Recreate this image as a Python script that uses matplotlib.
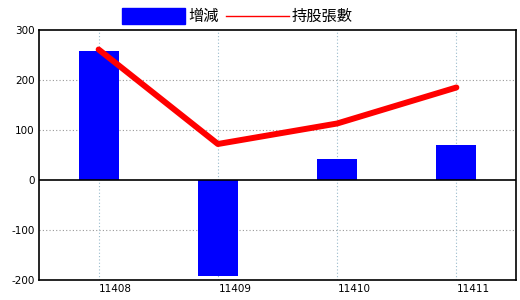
import matplotlib
matplotlib.use("Agg")
import matplotlib.pyplot as plt
from matplotlib.patches import Rectangle
from matplotlib.lines import Line2D
import numpy as np

plt.rcParams['font.family'] = ['Noto Sans CJK TC', 'DejaVu Sans']

months = ["11408", "11409", "11410", "11411"]
change = [259, -192, 42, 70]          # 增減
holdings = [261, 72, 113, 185]        # 持股張數

W, H = 520, 300
fig = plt.figure(figsize=(W/100, H/100), dpi=100)
ax = fig.add_axes([39/W, 1 - 280/H, 477/W, 250/H])

x = np.arange(len(months))
ax.bar(x, change, width=40/119.25, color="#0000ff", zorder=2)
ax.plot(x, holdings, color="#ff0000", linewidth=4.3, solid_capstyle="round", zorder=3)

ax.set_xlim(-0.5, len(months) - 0.5)
ax.set_ylim(-200, 300)
ax.set_yticks([-200, -100, 0, 100, 200, 300])
ax.set_yticklabels(["-200", "-100", "0", "100", "200", "300"], fontsize=7.5,
                   family="DejaVu Sans")
# labels sit a bit right of the category line
ax.set_xticks(x + 17/119.25)
ax.set_xticklabels(months, fontsize=7.5, family="DejaVu Sans")
ax.tick_params(length=0, pad=3)

for v in [-100, 100, 200]:
    ax.axhline(v, color="#999999", linestyle=(0, (1, 2)), linewidth=0.8, zorder=1)
for xi in x:
    ax.axvline(xi, color="#99bbcc", linestyle=(0, (1, 2)), linewidth=0.8, zorder=1)
ax.axhline(0, color="black", linewidth=1.2, zorder=2.5)

for s in ax.spines.values():
    s.set_color("black")
    s.set_linewidth(1.2)

# legend on top
fig.patches.append(Rectangle((122/W, 1 - 24/H), 63/W, 16/H, transform=fig.transFigure,
                             color="#0000ff"))
fig.text(188/W, 1 - 16/H, "增減", fontsize=11, va="center", ha="left")
fig.lines.append(Line2D([226/W, 289/W], [1 - 15.7/H, 1 - 15.7/H], transform=fig.transFigure,
                        color="#ff0000", linewidth=1))
fig.text(292/W, 1 - 16/H, "持股張數", fontsize=11, va="center", ha="left")

fig.savefig("out.png", dpi=100)
